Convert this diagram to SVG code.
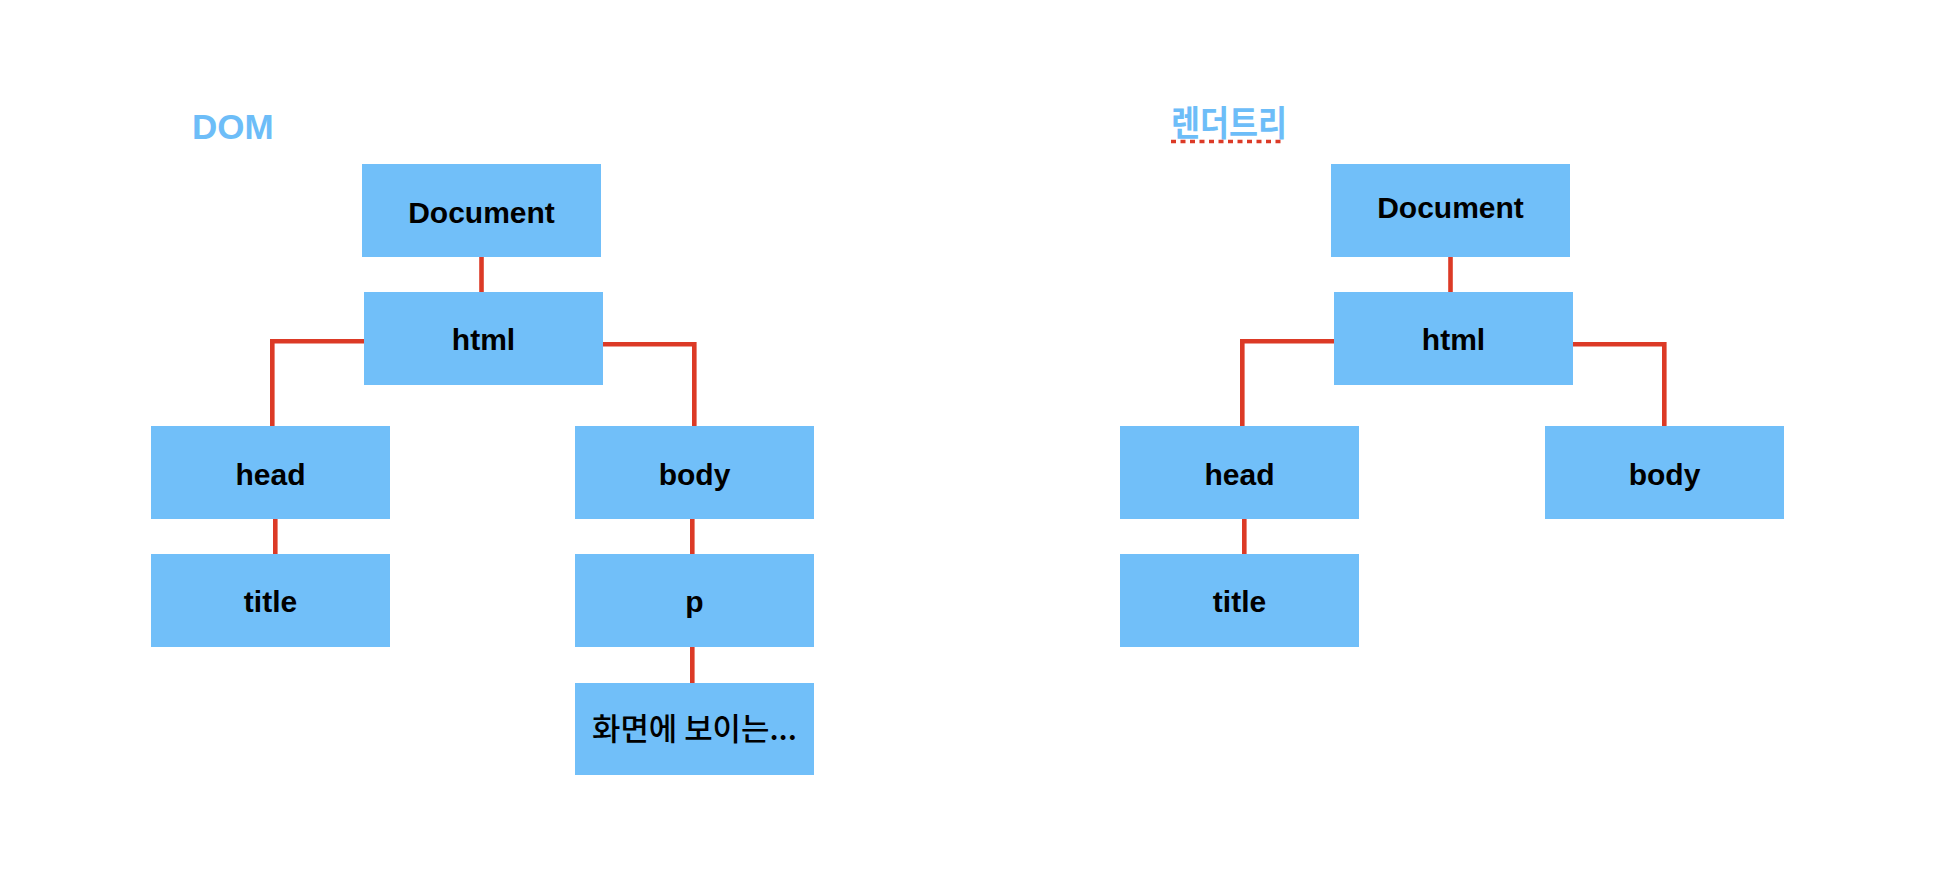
<svg xmlns="http://www.w3.org/2000/svg" width="1956" height="872" viewBox="0 0 1956 872">
<style>
.box{fill:#71BFF9}
.lbl{font-family:"Liberation Sans",Arial,sans-serif;font-weight:bold;font-size:30px;fill:#000;text-anchor:middle}
.kr{font-family:"Noto Sans CJK KR","Noto Sans",sans-serif;font-weight:500;font-size:31px;fill:#000;text-anchor:middle}
.conn{fill:none;stroke:#DC3A26;stroke-width:4.6;stroke-linejoin:miter}
.ttl{font-family:"Liberation Sans",Arial,sans-serif;font-weight:bold;font-size:35px;fill:#6DBDF8}
.ttlkr{font-family:"Noto Sans CJK KR",sans-serif;font-weight:bold;font-size:35px;fill:#6DBDF8}
</style>
<rect width="1956" height="872" fill="#fff"/>
<g id="connectors">
<path class="conn" d="M481.5 257V292"/>
<path class="conn" d="M364 341.3H272.3V426"/>
<path class="conn" d="M603 344.3H694.3V426"/>
<path class="conn" d="M275.3 518.7V554"/>
<path class="conn" d="M692.3 518.7V554"/>
<path class="conn" d="M692.3 647V683"/>
<path class="conn" d="M1450.5 257V292"/>
<path class="conn" d="M1334 341.3H1242.3V426"/>
<path class="conn" d="M1573 344.3H1664.3V426"/>
<path class="conn" d="M1244.3 518.7V554"/>
</g>
<g id="title-dom"><text class="ttl" x="192" y="139">DOM</text></g>
<g id="title-render">
<text class="ttlkr" x="1171" y="136" textLength="116" lengthAdjust="spacingAndGlyphs">렌더트리</text>
<line x1="1171" y1="141.5" x2="1285" y2="141.5" stroke="#DC3A26" stroke-width="3.5" stroke-dasharray="5 4.5"/>
</g>
<g id="dom-document"><rect class="box" x="362" y="164" width="239" height="93"/><text class="lbl" x="481.5" y="223">Document</text></g>
<g id="dom-html"><rect class="box" x="364" y="292" width="239" height="93"/><text class="lbl" x="483.5" y="350">html</text></g>
<g id="dom-head"><rect class="box" x="151" y="426" width="239" height="93"/><text class="lbl" x="270.5" y="485">head</text></g>
<g id="dom-title"><rect class="box" x="151" y="554" width="239" height="93"/><text class="lbl" x="270.5" y="612">title</text></g>
<g id="dom-body"><rect class="box" x="575" y="426" width="239" height="93"/><text class="lbl" x="694.5" y="485">body</text></g>
<g id="dom-p"><rect class="box" x="575" y="554" width="239" height="93"/><text class="lbl" x="694.5" y="612">p</text></g>
<g id="dom-text"><rect class="box" x="575" y="683" width="239" height="92"/><text class="kr" x="694.5" y="740" textLength="205" lengthAdjust="spacingAndGlyphs">화면에 보이는...</text></g>
<g id="rt-document"><rect class="box" x="1331" y="164" width="239" height="93"/><text class="lbl" x="1450.5" y="218">Document</text></g>
<g id="rt-html"><rect class="box" x="1334" y="292" width="239" height="93"/><text class="lbl" x="1453.5" y="350">html</text></g>
<g id="rt-head"><rect class="box" x="1120" y="426" width="239" height="93"/><text class="lbl" x="1239.5" y="485">head</text></g>
<g id="rt-title"><rect class="box" x="1120" y="554" width="239" height="93"/><text class="lbl" x="1239.5" y="612">title</text></g>
<g id="rt-body"><rect class="box" x="1545" y="426" width="239" height="93"/><text class="lbl" x="1664.5" y="485">body</text></g>
</svg>
